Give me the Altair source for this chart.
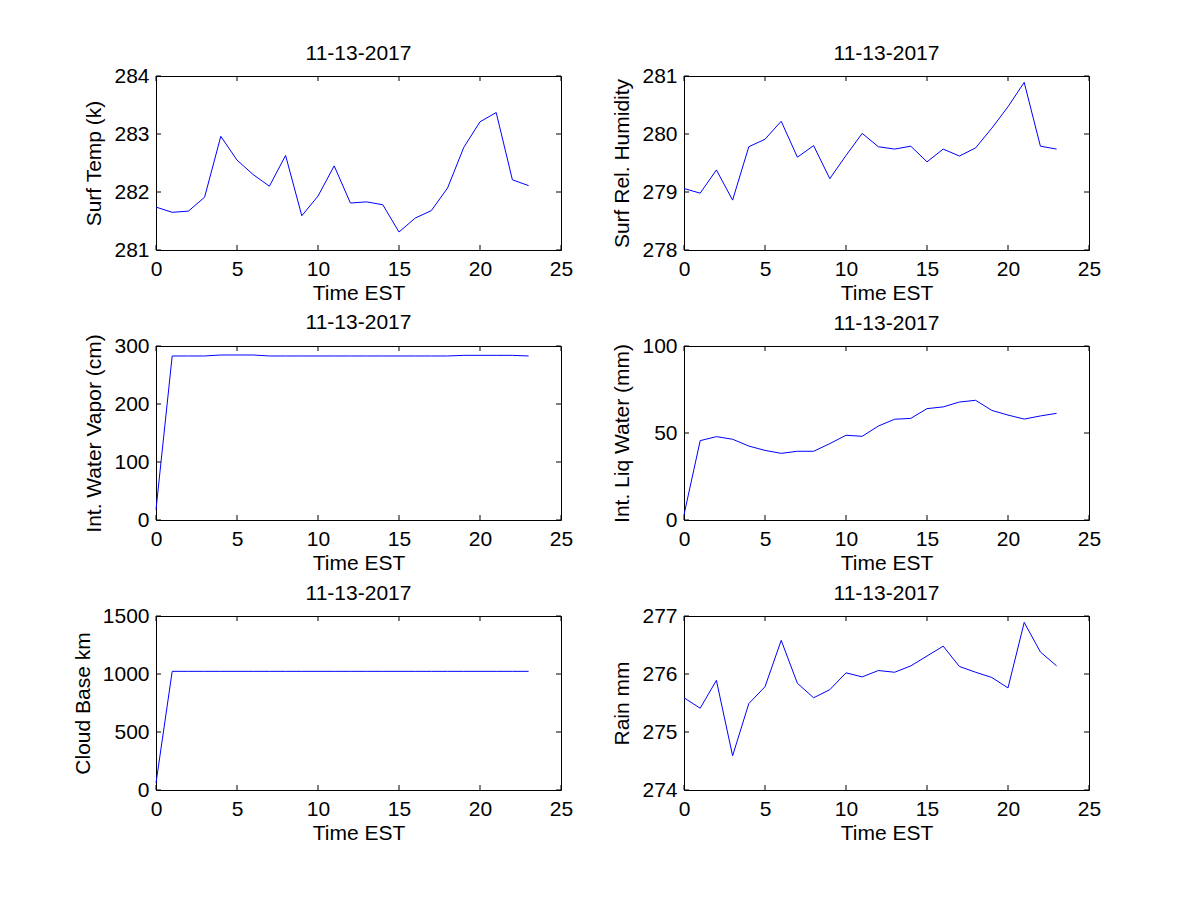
import altair as alt
import pandas as pd

hours = list(range(24))
date_title = "11-13-2017"
x_label = "Time EST"
x_ticks = [0, 5, 10, 15, 20, 25]

surf_temp = [281.74, 281.65, 281.67, 281.91, 282.96, 282.55, 282.30, 282.10,
             282.63, 281.59, 281.93, 282.45, 281.81, 281.83, 281.78, 281.31,
             281.55, 281.68, 282.07, 282.77, 283.21, 283.37, 282.21, 282.11]
surf_rh = [279.06, 278.98, 279.38, 278.86, 279.78, 279.91, 280.22, 279.60,
           279.80, 279.23, 279.63, 280.01, 279.78, 279.74, 279.79, 279.52,
           279.74, 279.62, 279.76, 280.10, 280.47, 280.89, 279.79, 279.74]
water_vapor = [18, 282.8, 282.8, 282.8, 284.5, 284.5, 284.5, 282.8,
               282.8, 282.8, 282.8, 282.8, 282.8, 282.8, 282.8, 282.8,
               282.8, 282.8, 282.8, 283.9, 283.9, 283.9, 283.9, 282.8]
liq_water = [3, 45.6, 47.9, 46.4, 42.5, 40.0, 38.3, 39.5,
             39.5, 43.9, 48.7, 48.1, 54.0, 57.9, 58.4, 64.0,
             65.0, 67.8, 68.8, 63.0, 60.3, 58.0, 59.8, 61.3]
cloud_base = [60] + [1023] * 23
rain = [275.59, 275.41, 275.89, 274.59, 275.49, 275.78, 276.58, 275.84,
        275.59, 275.73, 276.02, 275.95, 276.06, 276.03, 276.14, 276.31,
        276.48, 276.13, 276.03, 275.94, 275.76, 276.89, 276.38, 276.14]

W = 405
H = 174
FONT = "Liberation Sans"
FS = 21


def panel(values, ylabel, ydomain, yticks):
    df = pd.DataFrame({"hour": hours, "value": values})
    xs = alt.Scale(domain=[0, 25], nice=False, zero=False)
    ys = alt.Scale(domain=ydomain, nice=False, zero=False)
    xax = alt.Axis(values=x_ticks, title=x_label, labelFlush=False, format="d",
                   labelOverlap=False, labelPadding=8, titlePadding=3)
    yax = alt.Axis(values=yticks, title=ylabel, labelPadding=7, format="d",
                   labelOverlap=False, titlePadding=9)
    line = alt.Chart(df).mark_line(color="#0000ff", strokeWidth=1).encode(
        x=alt.X("hour:Q", scale=xs, axis=xax),
        y=alt.Y("value:Q", scale=ys, axis=yax),
    )
    xt = pd.DataFrame({"hour": x_ticks})
    yt = pd.DataFrame({"value": yticks})
    xtop = alt.Chart(xt).mark_rule(color="black", strokeWidth=1).encode(
        x=alt.X("hour:Q", scale=xs, axis=xax), y=alt.value(0), y2=alt.value(5))
    xbot = alt.Chart(xt).mark_rule(color="black", strokeWidth=1).encode(
        x=alt.X("hour:Q", scale=xs, axis=xax), y=alt.value(H - 5), y2=alt.value(H))
    yleft = alt.Chart(yt).mark_rule(color="black", strokeWidth=1).encode(
        y=alt.Y("value:Q", scale=ys, axis=yax), x=alt.value(0), x2=alt.value(5))
    yright = alt.Chart(yt).mark_rule(color="black", strokeWidth=1).encode(
        y=alt.Y("value:Q", scale=ys, axis=yax), x=alt.value(W - 5), x2=alt.value(W))
    return alt.layer(line, xtop, xbot, yleft, yright).properties(
        width=W, height=H, title=date_title)


p1 = panel(surf_temp, "Surf Temp (k)", [281, 284], [281, 282, 283, 284])
p2 = panel(surf_rh, "Surf Rel. Humidity", [278, 281], [278, 279, 280, 281])
p3 = panel(water_vapor, "Int. Water Vapor (cm)", [0, 300], [0, 100, 200, 300])
p4 = panel(liq_water, "Int. Liq Water (mm)", [0, 100], [0, 50, 100])
p5 = panel(cloud_base, "Cloud Base km", [0, 1500], [0, 500, 1000, 1500])
p6 = panel(rain, "Rain mm", [274, 277], [274, 275, 276, 277])

chart = alt.ConcatChart(
    concat=[p1, p2, p3, p4, p5, p6], columns=2,
    spacing={"row": 96, "column": 123}, bounds="flush",
).properties(
    padding={"left": 63, "top": 34, "right": 5, "bottom": 5},
    background="white",
).configure_view(
    stroke="black", strokeWidth=1
).configure_axis(
    domain=False, grid=False, ticks=False,
    labelFont=FONT, labelFontSize=FS, labelColor="black",
    titleFont=FONT, titleFontSize=FS, titleColor="black", titleFontWeight="normal"
).configure_title(
    font=FONT, fontSize=FS, fontWeight="normal", color="black", offset=1
)

chart.save("out.html", embed_options={"renderer": "svg", "actions": False})
